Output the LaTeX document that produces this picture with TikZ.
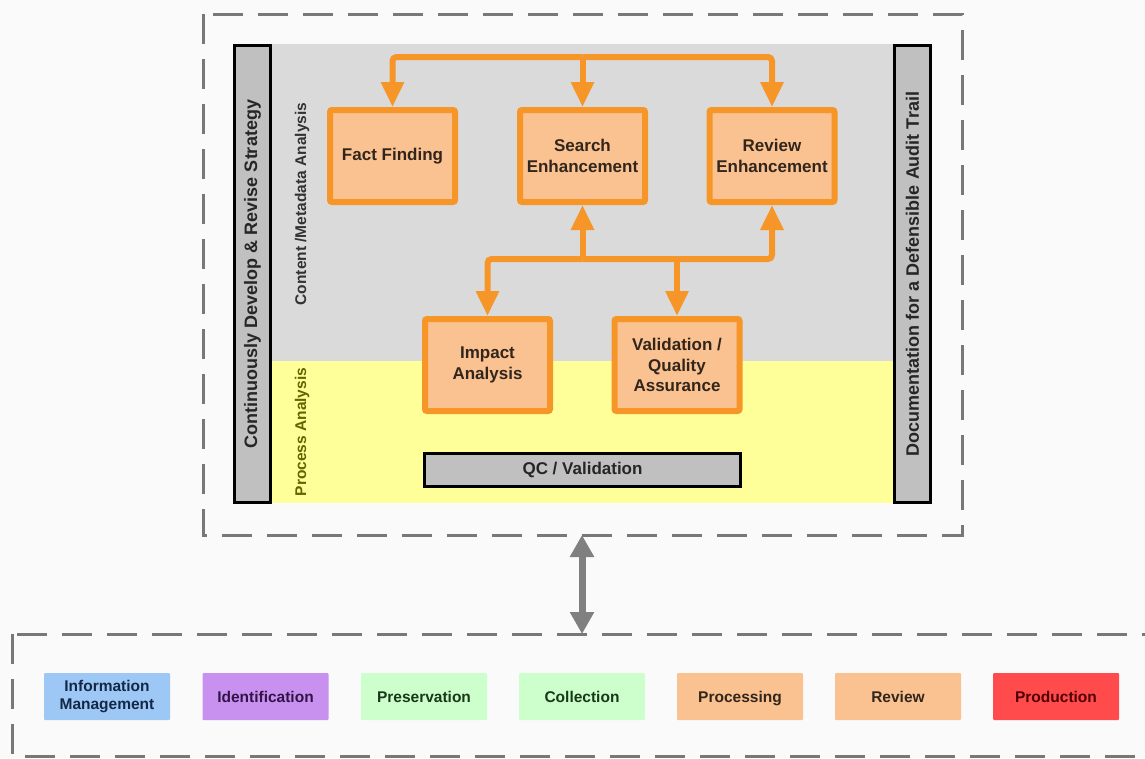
\documentclass[tikz,border=0pt]{standalone}
\usepackage{fontspec}
\setmainfont{Liberation Sans}
\usetikzlibrary{arrows.meta}

\definecolor{frameGrey}{RGB}{120,120,120}
\definecolor{procOrange}{RGB}{247,150,40}
\definecolor{procFill}{RGB}{250,193,145}
\definecolor{taskText}{RGB}{50,38,28}
\definecolor{barGrey}{RGB}{192,192,192}
\definecolor{zoneGrey}{RGB}{218,218,218}
\definecolor{zoneYellow}{RGB}{255,255,153}
\definecolor{linkGrey}{RGB}{128,128,128}
\definecolor{infoBlue}{RGB}{157,200,245}
\definecolor{identPurple}{RGB}{200,145,240}
\definecolor{keepGreen}{RGB}{204,255,204}
\definecolor{prodRed}{RGB}{255,75,75}

\begin{document}
\begin{tikzpicture}[x=1pt,y=1pt,yscale=-1,
  dashframe/.style={draw=frameGrey,line width=3pt,dash pattern={on 30pt off 15pt}},
  task/.style={draw=procOrange,fill=procFill,line width=6pt,rounded corners=2pt,
    minimum width=125pt,minimum height=92pt,align=center,text=taskText,
    font=\fontsize{17}{20.5}\selectfont\bfseries},
  sidebar/.style={draw=black,fill=barGrey,line width=3pt,rotate=90,
    minimum width=457pt,minimum height=36pt,text=black!85,
    font=\fontsize{18}{20}\selectfont\bfseries},
  phase/.style={minimum width=126pt,minimum height=47pt,align=center,
    rounded corners=1pt,font=\fontsize{15.5}{18.5}\selectfont\bfseries},
  flow/.style={draw=procOrange,line width=6pt,rounded corners=4pt,
    -{Triangle[width=22pt,length=25pt]}},
  link/.style={draw=linkGrey,line width=7pt,
    {Triangle[width=23pt,length=22pt]}-{Triangle[width=23pt,length=22pt]}},
]
\useasboundingbox (0,0) rectangle (1145,758);
\clip (0,0) rectangle (1145,758);
\fill[white!98!black] (0,0) rectangle (1145,758);

%Dashed frames
\draw[dashframe] (203,14) rectangle (962,535);
\draw[dashframe] (12,634) rectangle (1190,756);

%Analysis zones
\fill[zoneGrey] (272,44) rectangle (893,361);
\fill[zoneYellow] (272,361) rectangle (893,503);

% Text Node
\node[rotate=90,text=black!80,font=\fontsize{15.5}{18}\selectfont\bfseries] (contentLbl) at (302,204) {Content /Metadata Analysis};
% Text Node
\node[rotate=90,text={rgb,255:red,100;green,100;blue,0},font=\fontsize{15.5}{18}\selectfont\bfseries] (processLbl) at (302,432) {Process Analysis};

%Side bars
\node[sidebar] (strategy) at (252.5,274) {Continuously Develop \& Revise Strategy};
\node[sidebar] (audit) at (912.5,274) {Documentation for a Defensible Audit Trail};

%Tasks
\node[task] (fact) at (392.5,156) {Fact Finding};
\node[task] (search) at (582.5,156) {Search\\Enhancement};
\node[task] (review) at (772,156) {Review\\Enhancement};
\node[task] (impact) at (487.5,365) {Impact\\Analysis};
\node[task] (valid) at (677,365) {Validation /\\Quality\\Assurance};

\node[draw=black,fill=barGrey,line width=3pt,minimum width=316pt,minimum height=33pt,
  text=black!85,font=\fontsize{17}{20}\selectfont\bfseries] (qc) at (582.5,470) {QC / Validation};

%Connectors
\coordinate (topBus) at (582.5,57);
\coordinate (midBus) at (582.5,259);
\draw[flow] (topBus) -| (fact);
\draw[flow] (topBus) -- (search);
\draw[flow] (topBus) -| (review);
\draw[flow] (midBus) -- (search);
\draw[flow] (midBus) -| (review);
\draw[flow] (midBus) -| (impact);
\draw[flow] (midBus -| valid) -- (valid);

\coordinate (linkTop) at (582,535);
\coordinate (linkBot) at (582,634);
\draw[link] (linkTop) -- (linkBot);

%EDRM phases
\node[phase,fill=infoBlue,text={rgb,255:red,20;green,40;blue,70}] (info) at (107,696.5) {Information\\Management};
\node[phase,fill=identPurple,text={rgb,255:red,50;green,20;blue,70}] (ident) at (265.5,696.5) {Identification};
\node[phase,fill=keepGreen,text={rgb,255:red,25;green,55;blue,25}] (preserve) at (424,696.5) {Preservation};
\node[phase,fill=keepGreen,text={rgb,255:red,25;green,55;blue,25}] (collect) at (582,696.5) {Collection};
\node[phase,fill=procFill,text=taskText,text depth=0pt] (process) at (740,696.5) {Processing};
\node[phase,fill=procFill,text=taskText] (reviewPh) at (898,696.5) {Review};
\node[phase,fill=prodRed,text={rgb,255:red,80;green,0;blue,0}] (produce) at (1056,696.5) {Production};

\end{tikzpicture}
\end{document}
